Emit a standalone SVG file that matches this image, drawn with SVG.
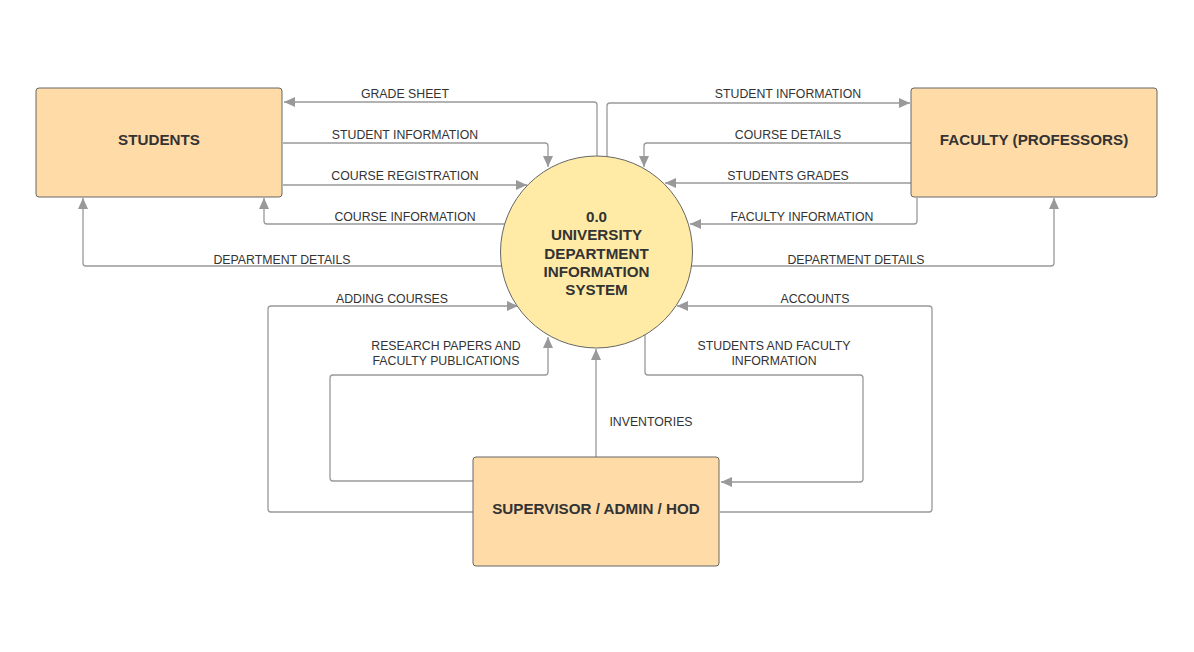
<svg xmlns="http://www.w3.org/2000/svg" width="1194" height="652" viewBox="0 0 1194 652">
<style>
.box{fill:#FFDBA8;stroke:#666;stroke-width:1}
.proc{fill:#FFEBA6;stroke:#666;stroke-width:1}
.nl{font-family:"Liberation Sans",Arial,sans-serif;font-weight:bold;font-size:15.2px;fill:#333;text-anchor:middle}
.cl{font-family:"Liberation Sans",Arial,sans-serif;font-size:12.3px;fill:#333;text-anchor:middle}
.c{fill:none;stroke:#999;stroke-width:1.3;stroke-linejoin:round;marker-end:url(#ah)}
</style>
<defs>
<marker id="ah" markerUnits="userSpaceOnUse" markerWidth="12" markerHeight="10" refX="11" refY="5" orient="auto">
<path d="M0,0 L11,5 L0,10 Z" fill="#999"/>
</marker>
</defs>
<rect width="1194" height="652" fill="#fff"/>
<g id="connectors">
<path class="c" d="M597,156 V105 Q597,102 594,102 H284"/>
<path class="c" d="M283,143 H545 Q548,143 548,146 V167"/>
<path class="c" d="M283,185 H527"/>
<path class="c" d="M505,224 H267 Q264,224 264,221 V198"/>
<path class="c" d="M502,266 H86 Q83,266 83,263 V198"/>
<path class="c" d="M607,157 V106 Q607,103 610,103 H910"/>
<path class="c" d="M911,143 H647 Q644,143 644,146 V167"/>
<path class="c" d="M911,183 H665"/>
<path class="c" d="M917,198 V221 Q917,224 914,224 H690"/>
<path class="c" d="M691,266 H1051 Q1054,266 1054,263 V198"/>
<path class="c" d="M473,512 H271 Q268,512 268,509 V309 Q268,306 271,306 H518"/>
<path class="c" d="M473,481 H333 Q330,481 330,478 V378 Q330,375 333,375 H545 Q548,375 548,372 V337"/>
<path class="c" d="M596,457 V349"/>
<path class="c" d="M720,512 H929 Q932,512 932,509 V309 Q932,306 929,306 H677"/>
<path class="c" d="M645,335 V372 Q645,375 648,375 H860 Q863,375 863,378 V479 Q863,482 860,482 H721"/>
<text class="cl" x="405" y="98">GRADE SHEET</text>
<text class="cl" x="405" y="139">STUDENT INFORMATION</text>
<text class="cl" x="405" y="180">COURSE REGISTRATION</text>
<text class="cl" x="405" y="221">COURSE INFORMATION</text>
<text class="cl" x="282" y="264">DEPARTMENT DETAILS</text>
<text class="cl" x="788" y="98">STUDENT INFORMATION</text>
<text class="cl" x="788" y="139">COURSE DETAILS</text>
<text class="cl" x="788" y="180">STUDENTS GRADES</text>
<text class="cl" x="802" y="221">FACULTY INFORMATION</text>
<text class="cl" x="856" y="264">DEPARTMENT DETAILS</text>
<text class="cl" x="392" y="303">ADDING COURSES</text>
<text class="cl" x="446" y="350">RESEARCH PAPERS AND</text>
<text class="cl" x="446" y="365">FACULTY PUBLICATIONS</text>
<text class="cl" x="651" y="426">INVENTORIES</text>
<text class="cl" x="815" y="303">ACCOUNTS</text>
<text class="cl" x="774" y="350">STUDENTS AND FACULTY</text>
<text class="cl" x="774" y="365">INFORMATION</text>
</g>
<g id="students">
<rect class="box" x="36" y="88" width="246" height="109" rx="3"/>
<text class="nl" x="159" y="145">STUDENTS</text>
</g>
<g id="faculty">
<rect class="box" x="911" y="88" width="246" height="109" rx="3"/>
<text class="nl" x="1034" y="145">FACULTY (PROFESSORS)</text>
</g>
<g id="supervisor">
<rect class="box" x="473" y="457" width="246" height="109" rx="3"/>
<text class="nl" x="596" y="514">SUPERVISOR / ADMIN / HOD</text>
</g>
<g id="process">
<circle class="proc" cx="596.5" cy="252" r="96"/>
<text class="nl" x="596.5" y="222">0.0</text>
<text class="nl" x="596.5" y="240">UNIVERSITY</text>
<text class="nl" x="596.5" y="259">DEPARTMENT</text>
<text class="nl" x="596.5" y="277">INFORMATION</text>
<text class="nl" x="596.5" y="295">SYSTEM</text>
</g>
</svg>
